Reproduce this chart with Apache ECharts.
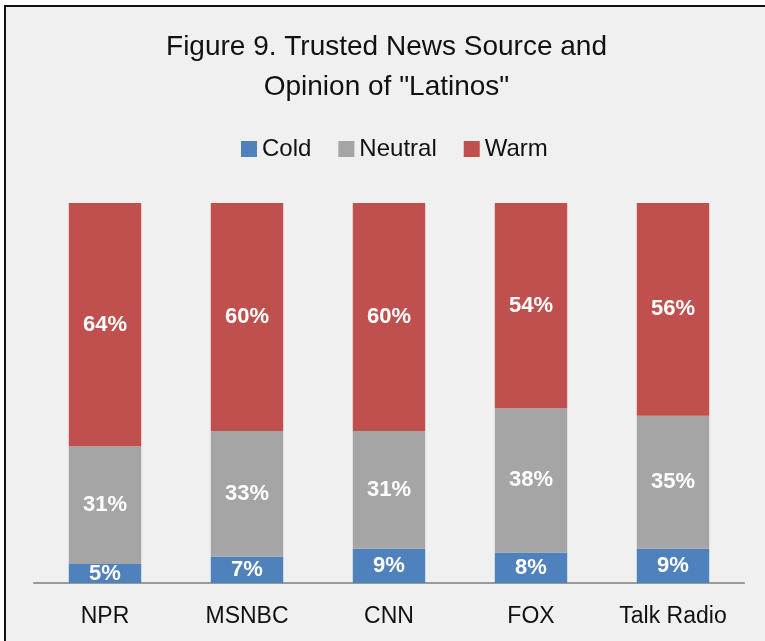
<!DOCTYPE html>
<html><head><meta charset="utf-8">
<script src="https://cdn.jsdelivr.net/npm/echarts@6/dist/echarts.min.js"></script>
<style>
html,body{margin:0;padding:0;background:#fff;overflow:hidden;width:765px;height:641px;}
#c{position:absolute;left:4px;top:5px;width:761px;height:636px;border-left:2px solid #111;border-top:2px solid #111;background:#f0f0f0;}
</style></head>
<body><div id="c"></div>
<script>
const categories = ['NPR', 'MSNBC', 'CNN', 'FOX', 'Talk Radio'];
const cold = [5, 7, 9, 8, 9];
const neutral = [31, 33, 31, 38, 35];
const warm = [64, 60, 60, 54, 56];
const seriesNames = ['Cold', 'Neutral', 'Warm'];
const colors = ['#4f81bd', '#a5a5a5', '#c0504d'];
const FONT = '"Liberation Sans", Arial, sans-serif';

const chart = echarts.init(document.getElementById('c'), null, {renderer: 'canvas'});
const lbl = {show: true, position: 'inside', color: '#fff', fontFamily: FONT, fontSize: 22, fontWeight: 'bold', formatter: p => p.value + '%'};
const mk = (name, data, color) => ({
  name, type: 'bar', stack: 'a', data, barWidth: '51%',
  itemStyle: {color}, label: lbl, emphasis: {disabled: true}
});
chart.setOption({
  animation: false,
  backgroundColor: '#f0f0f0',
  title: {
    text: 'Figure 9. Trusted News Source and\nOpinion of "Latinos"',
    left: 'center', top: 15,
    textStyle: {fontFamily: FONT, fontSize: 28, fontWeight: 'normal', color: '#111', lineHeight: 40}
  },
  legend: {
    data: seriesNames, top: 125, left: 230,
    itemWidth: 16, itemHeight: 16, itemGap: 27,
    icon: 'rect',
    textStyle: {fontFamily: FONT, fontSize: 24, color: '#111', padding: [0, 0, 0, 0]}
  },
  grid: {left: 28, right: 23, top: 196, bottom: 60, containLabel: false},
  xAxis: {
    type: 'category', data: categories,
    axisLine: {lineStyle: {color: '#999', width: 2}},
    axisTick: {show: false},
    axisLabel: {fontFamily: FONT, fontSize: 23, color: '#111', margin: 22}
  },
  yAxis: {type: 'value', min: 0, max: 100, show: false},
  series: [mk(seriesNames[0], cold, colors[0]), mk(seriesNames[1], neutral, colors[1]), mk(seriesNames[2], warm, colors[2])]
});
</script></body></html>
